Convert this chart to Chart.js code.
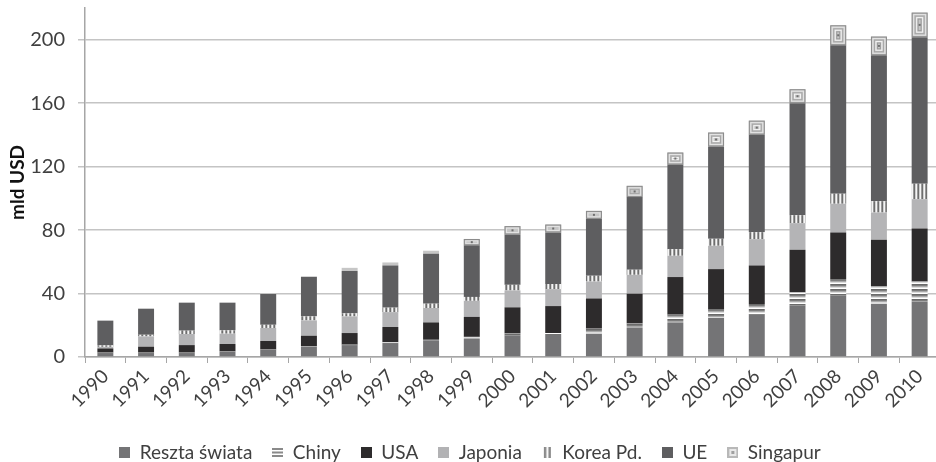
<!DOCTYPE html>
<html lang="pl">
<head>
    <meta charset="UTF-8">
    <title>mld USD</title>
    <script src="https://cdn.jsdelivr.net/npm/chart.js"></script>
    <style>
        body {
            margin: 0;
            overflow: hidden;
            background: #ffffff;
        }
        #wrap {
            width: 940px;
            height: 462px;
        }
    </style>
</head>
<body>
    <div id="wrap"><canvas id="chart" width="940" height="462"></canvas></div>

    <script>
        const years = ['1990', '1991', '1992', '1993', '1994', '1995', '1996', '1997', '1998', '1999', '2000',
                       '2001', '2002', '2003', '2004', '2005', '2006', '2007', '2008', '2009', '2010'];
        const reszta   = [2.5, 2.5, 2.5, 3.3, 4.6, 6.5, 7.5, 8.8, 10.3, 11.7, 13.4, 13.9, 14.7, 18.6, 21.8, 24.6, 26.6, 32.3, 38.6, 33.6, 35.0];
        const chiny    = [0.2, 0.2, 0.2, 0.2, 0.3, 0.3, 0.4, 0.5, 0.6, 1.0, 1.3, 1.2, 3.1, 2.4, 5.0, 5.6, 6.8, 8.4, 10.5, 10.9, 12.6];
        const usa      = [2.7, 3.8, 4.8, 4.7, 5.2, 6.6, 7.2, 9.6, 10.9, 12.6, 16.6, 17.0, 19.1, 18.9, 23.6, 25.2, 24.3, 26.9, 29.4, 29.4, 33.4];
        const japonia  = [1.0, 6.5, 7.0, 6.5, 8.2, 9.7, 10.5, 9.4, 9.1, 10.1, 10.7, 10.7, 10.7, 11.9, 13.4, 14.7, 16.6, 16.8, 18.1, 17.2, 18.5];
        const korea    = [0.9, 1.0, 2.1, 2.1, 2.0, 2.5, 1.9, 2.8, 2.7, 2.5, 3.5, 3.2, 3.6, 3.2, 4.2, 4.4, 4.4, 5.0, 6.3, 7.1, 9.7];
        const ue       = [15.6, 16.4, 17.6, 17.4, 19.4, 24.9, 26.7, 26.6, 31.5, 32.5, 31.7, 32.5, 35.9, 45.8, 53.3, 58.2, 61.5, 70.6, 93.6, 92.0, 92.4];
        const singapur = [0.1, 0.2, 0.2, 0.2, 0.2, 0.3, 2.0, 1.9, 1.9, 4.0, 5.3, 5.0, 5.0, 7.1, 7.6, 8.8, 8.8, 8.8, 12.6, 11.8, 15.5];
        const yTicks = [0, 40, 80, 120, 160, 200];

        const FONT = 'Lato, "Open Sans", sans-serif';
        const TEXT = '#404040';

        // striped fills for Chiny (horizontal) and Korea (vertical)
        function stripes(colors, vertical) {
            const c = document.createElement('canvas');
            c.width = vertical ? colors.length : 1;
            c.height = vertical ? 1 : colors.length;
            const g = c.getContext('2d');
            colors.forEach((col, i) => {
                g.fillStyle = col;
                if (vertical) g.fillRect(i, 0, 1, 1); else g.fillRect(0, i, 1, 1);
            });
            return document.createElement('canvas').getContext('2d').createPattern(c, 'repeat');
        }
        const chinyFill = stripes(['#7d7d7d', '#a9a9a9', '#dcdcdc', '#ffffff', '#6a6a6a'], false);
        const koreaFill = stripes(['#f5f5f5', '#9a9a9a', '#6e6e6e', '#cfcfcf'], true);

        // small legend swatches
        function swatch(draw) {
            const c = document.createElement('canvas');
            c.width = 11; c.height = 11;
            draw(c.getContext('2d'));
            return c;
        }
        const swatches = [
            swatch(g => { g.fillStyle = '#747476'; g.fillRect(0, 0, 11, 11); }),
            swatch(g => { g.fillStyle = '#8a8a8a'; [1, 4.5, 8].forEach(y => g.fillRect(0, y, 11, 2)); }),
            swatch(g => { g.fillStyle = '#2d2b2c'; g.fillRect(0, 0, 11, 11); }),
            swatch(g => { g.fillStyle = '#b2b2b4'; g.fillRect(0, 0, 11, 11); }),
            swatch(g => { g.fillStyle = '#8a8a8a'; g.fillRect(2, 0, 2.5, 11); g.fillRect(6.5, 0, 2.5, 11); }),
            swatch(g => { g.fillStyle = '#5e5e60'; g.fillRect(0, 0, 11, 11); }),
            swatch(g => {
                g.fillStyle = '#b8b8b8'; g.fillRect(0, 0, 11, 11);
                g.fillStyle = '#e8e8e8'; g.fillRect(2, 2, 7, 7);
                g.fillStyle = '#a0a0a0'; g.fillRect(4, 4, 3, 3);
            })
        ];

        // concentric squares inside the Singapur segments
        const singapurRings = {
            id: 'singapurRings',
            afterDatasetsDraw(chart) {
                const meta = chart.getDatasetMeta(6);
                const ctx = chart.ctx;
                const ringColors = ['#8a8a8a', '#e4e4e4', '#a6a6a6', '#f4f4f4', '#9a9a9a'];
                ctx.save();
                ctx.lineWidth = 1;
                meta.data.forEach(bar => {
                    let left = bar.x - bar.width / 2, top = bar.y;
                    let w = bar.width, h = bar.base - bar.y;
                    if (h < 4) return;
                    let k = 0;
                    while (w > 3 && h > 3) {
                        ctx.strokeStyle = ringColors[k % ringColors.length];
                        ctx.strokeRect(left + 0.5, top + 0.5, w - 1, h - 1);
                        left += 1.5; top += 1.5; w -= 3; h -= 3;
                        k++;
                    }
                    ctx.fillStyle = '#6f6f6f';
                    ctx.fillRect(bar.x - 1, (bar.y + bar.base) / 2 - 1, 2, 2);
                });
                ctx.restore();
            }
        };

        function series(label, data, color) {
            return {
                label: label,
                data: data,
                backgroundColor: color,
                borderWidth: 0,
                categoryPercentage: 0.8,
                barPercentage: 0.49
            };
        }

        const ctx = document.getElementById('chart').getContext('2d');
        new Chart(ctx, {
            type: 'bar',
            data: {
                labels: years,
                datasets: [
                    series('Reszta świata', reszta, '#747476'),
                    series('Chiny', chiny, chinyFill),
                    series('USA', usa, '#2d2b2c'),
                    series('Japonia', japonia, '#b4b4b6'),
                    series('Korea Pd.', korea, koreaFill),
                    series('UE', ue, '#5e5e60'),
                    series('Singapur', singapur, '#c6c6c6')
                ]
            },
            plugins: [singapurRings],
            options: {
                responsive: false,
                animation: false,
                layout: { padding: { top: 8, left: 0, right: 0, bottom: -10 } },
                plugins: {
                    tooltip: { enabled: false },
                    legend: {
                        position: 'bottom',
                        labels: {
                            color: TEXT,
                            font: { family: FONT, size: 19 },
                            usePointStyle: true,
                            boxWidth: 11,
                            boxHeight: 11,
                            padding: 20,
                            generateLabels(chart) {
                                return chart.data.datasets.map((ds, i) => ({
                                    text: ds.label,
                                    pointStyle: swatches[i],
                                    fontColor: TEXT,
                                    lineWidth: 0,
                                    strokeStyle: 'rgba(0,0,0,0)',
                                    datasetIndex: i
                                }));
                            }
                        }
                    }
                },
                scales: {
                    x: {
                        stacked: true,
                        afterFit(s) { s.height = 66; },
                        grid: {
                            offset: true,
                            drawOnChartArea: false,
                            tickLength: 6,
                            color: '#a6a6a6'
                        },
                        border: { color: '#a6a6a6', width: 1.5 },
                        ticks: {
                            color: TEXT,
                            font: { family: FONT, size: 19 },
                            minRotation: 45,
                            maxRotation: 45,
                            padding: 2
                        }
                    },
                    y: {
                        stacked: true,
                        min: 0,
                        max: 220,
                        afterFit(s) {
                            s.width = 85;
                            s.paddingTop = 0;
                            s.paddingBottom = 0;
                        },
                        afterBuildTicks(s) { s.ticks = yTicks.map(v => ({ value: v })); },
                        grid: {
                            color: '#c4c4c4',
                            lineWidth: 1.5,
                            tickLength: 7
                        },
                        border: { color: '#a6a6a6', width: 1.5 },
                        ticks: {
                            color: TEXT,
                            font: { family: FONT, size: 20 },
                            padding: 13
                        },
                        title: {
                            display: true,
                            text: 'mld USD',
                            color: '#111',
                            font: { family: FONT, size: 19, weight: 'bold' },
                            padding: { top: 6, bottom: 4 }
                        }
                    }
                }
            }
        });
    </script>
</body>
</html>
